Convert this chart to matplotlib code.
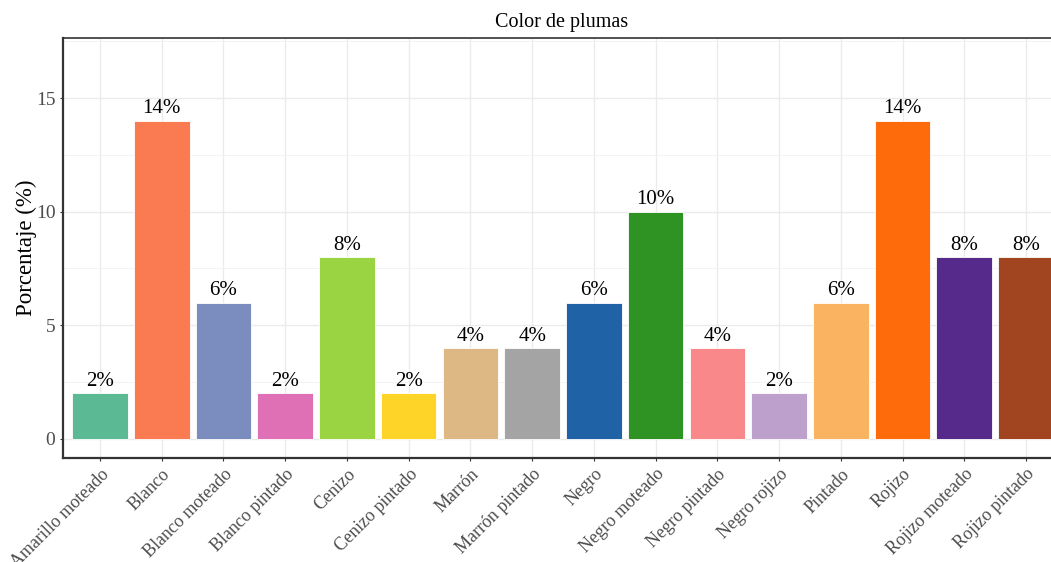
import matplotlib
matplotlib.use("Agg")
import matplotlib.pyplot as plt
import numpy as np

categories = ["Amarillo moteado", "Blanco", "Blanco moteado", "Blanco pintado",
              "Cenizo", "Cenizo pintado", "Marrón", "Marrón pintado", "Negro",
              "Negro moteado", "Negro pintado", "Negro rojizo", "Pintado",
              "Rojizo", "Rojizo moteado", "Rojizo pintado"]
values = [2, 14, 6, 2, 8, 2, 4, 4, 6, 10, 4, 2, 6, 14, 8, 8]
labels = [f"{v}%" for v in values]
colors = ["#5BBA94", "#FA7A52", "#7B8DBE", "#E070B5", "#9AD443", "#FFD429",
          "#DEB884", "#A4A4A4", "#1F63A6", "#2E9322", "#F8888A", "#BDA0CB",
          "#FAB360", "#FE6B0A", "#562A8A", "#A04520"]

plt.rcParams['font.family'] = ['Liberation Serif', 'DejaVu Serif']

W, H = 1051, 562
fig = plt.figure(figsize=(W / 100, H / 100), dpi=100)
# axes in pixel coords: left 63, right 1063 (beyond figure), top 38, bottom 458
left, right, top, bottom = 63, 1063, 38, 458
ax = fig.add_axes([left / W, 1 - bottom / H, (right - left) / W, (bottom - top) / H])

x = np.arange(len(categories))
ax.bar(x, values, width=0.9, color=colors, edgecolor="white", linewidth=0.6, zorder=3)
for xi, v, lab in zip(x, values, labels):
    ax.text(xi, v + 0.1, lab, ha="center", va="bottom", fontsize=15, color="black", zorder=4)

ax.set_xlim(-0.6, len(categories) - 1 + 0.6)
ax.set_ylim(-0.84, 17.64)
ax.set_yticks([0, 5, 10, 15])
ax.set_yticks([2.5, 7.5, 12.5, 17.5], minor=True)
ax.set_xticks(x)
ax.set_xticklabels(categories, rotation=45, ha="right", va="top", rotation_mode="anchor")
ax.grid(True, which="major", color="#EBEBEB", linewidth=1.0, zorder=0)
ax.grid(True, which="minor", axis="y", color="#F3F3F3", linewidth=0.7, zorder=0)
ax.tick_params(axis="x", which="major", length=2.5, color="#333333", labelsize=13,
               labelcolor="#4D4D4D", pad=3)
ax.tick_params(axis="y", which="major", length=2.5, color="#333333", labelsize=14,
               labelcolor="#4D4D4D", pad=3)
ax.tick_params(axis="y", which="minor", length=0)
for s in ax.spines.values():
    s.set_color("#333333")
    s.set_linewidth(1.2)
ax.spines["left"].set_linewidth(1.6)
ax.spines["bottom"].set_linewidth(1.6)
ax.set_axisbelow(True)

ax.set_ylabel("Porcentaje (%)", fontsize=16.5, color="black", labelpad=-1)
fig.text(562 / W, 1 - 22 / H, "Color de plumas", ha="center", va="center", fontsize=14.5, color="black")

fig.savefig("out.png", dpi=100)
